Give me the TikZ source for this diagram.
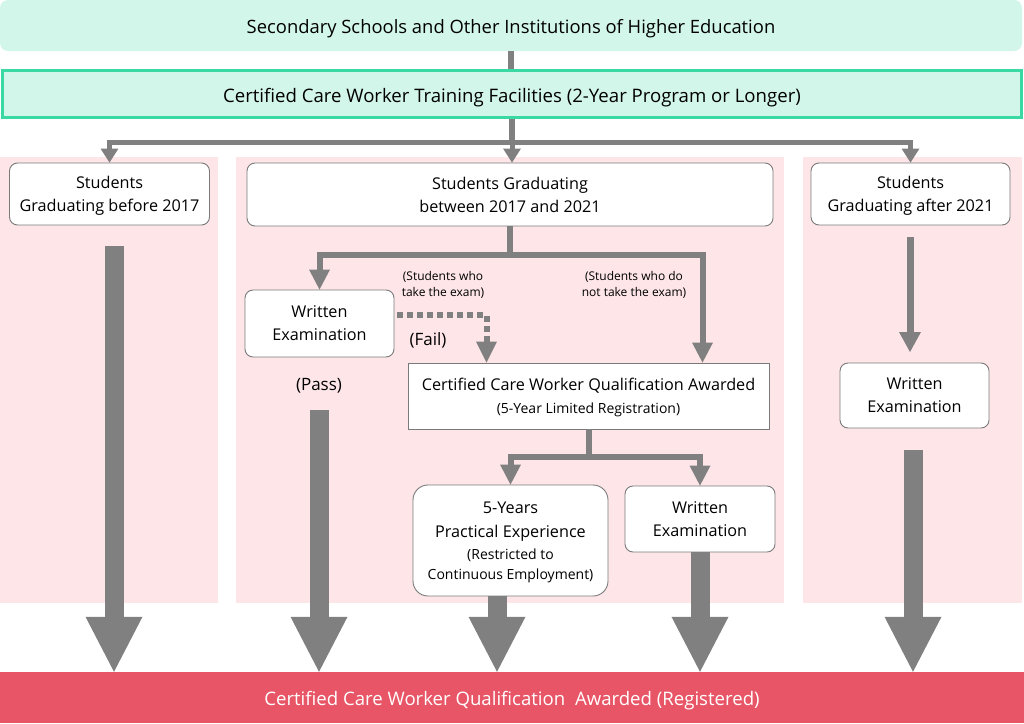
\documentclass[tikz,border=0pt]{standalone}
\usepackage{fontspec}
\setmainfont{Open Sans}
\usetikzlibrary{arrows.meta,calc}
\definecolor{mint}{HTML}{D3F6EA}
\definecolor{mintline}{HTML}{3AD8A2}
\definecolor{pinkbg}{HTML}{FDE5E8}
\definecolor{barred}{HTML}{E85566}
\definecolor{arrgray}{HTML}{808080}
\definecolor{boxline}{HTML}{7A7A7A}
\tikzset{
  panel/.style={fill=pinkbg,draw=none},
  wbox/.style={draw=boxline,line width=0.9pt,fill=white,rounded corners=8pt,align=center,inner sep=0pt,
    text depth=0pt,font=\fontsize{16.2}{23}\selectfont},
  band/.style={minimum width=#1,inner sep=0pt,text height=16pt,text depth=0pt,font=\fontsize{18.6}{22}\selectfont},
  conn/.style={draw=arrgray,line width=6pt,line join=miter,-{Triangle[length=20pt,width=21pt,line width=0pt]}},
  topconn/.style={draw=arrgray,line width=5pt,line join=miter,-{Triangle[length=14pt,width=18pt,line width=0pt]}},
  thinconn/.style={draw=arrgray,line width=7pt,-{Triangle[length=20pt,width=22pt,line width=0pt]}},
  bigarrow/.style={draw=arrgray,line width=19pt,-{Triangle[length=55pt,width=57pt,line width=0pt]}},
  plain/.style={draw=arrgray,line width=6pt},
  small/.style={font=\fontsize{12}{16}\selectfont,align=center,inner sep=0pt},
  lbl/.style={font=\fontsize{17}{20}\selectfont,inner sep=0pt}
}
\begin{document}
\begin{tikzpicture}[x=1pt,y=-1pt]
\useasboundingbox (0,0) rectangle (1024,723);
% panels
\fill[panel] (0,157) rectangle (218,603);
\fill[panel] (236,157) rectangle (784,603);
\fill[panel] (803,157) rectangle (1022,603);

% header boxes
\node[band=1022pt,fill=mint,rounded corners=8pt,minimum height=51pt,font=\fontsize{18.4}{22}\selectfont]
  (top) at (511,25.5) {Secondary Schools and Other Institutions of Higher Education};
\node[band=1019pt,fill=mint,draw=mintline,line width=3pt,minimum height=47pt]
  (train) at (512,94) {Certified Care Worker Training Facilities (2-Year Program or Longer)};

% student boxes
\node[wbox,minimum width=200pt,minimum height=62pt] (s1) at (109.5,194) {Students\\Graduating before 2017};
\node[wbox,minimum width=526pt,minimum height=63pt] (s2) at (510,194.5) {Students Graduating\\between 2017 and 2021};
\node[wbox,minimum width=199pt,minimum height=62pt] (s3) at (910.5,194) {Students\\Graduating after 2021};

% middle column
\node[wbox,minimum width=149pt,minimum height=67pt] (we1) at (319.5,323.5) {Written\\Examination};
\node[wbox,rounded corners=0pt,minimum width=361pt,minimum height=66pt] (qual) at (588.5,396)
  {Certified Care Worker Qualification Awarded\\\fontsize{14}{20}\selectfont (5-Year Limited Registration)};
\node[wbox,rounded corners=15pt,minimum width=195pt,minimum height=111pt,font=\fontsize{16.2}{24}\selectfont] (fivey) at (510.5,540.5)
  {5-Years\\Practical Experience\\[-2pt]\fontsize{14}{20}\selectfont (Restricted to\\[-4pt]\fontsize{14}{20}\selectfont Continuous Employment)};
\node[wbox,minimum width=150pt,minimum height=66pt] (we2) at (700,519) {Written\\Examination};

% right column
\node[wbox,minimum width=149pt,minimum height=65pt] (we3) at (914.5,395.5) {Written\\Examination};

% bottom bar
\node[band=1024pt,fill=barred,minimum height=51pt,text=white]
  (bar) at (512,697.5) {Certified Care Worker Qualification\ \ Awarded (Registered)};

% labels
\node[small] (lt) at (443,285) {(Students who\\take the exam)};
\node[small] (lnt) at (634,285) {(Students who do\\not take the exam)};
\node[lbl] (fail) at (428,340) {(Fail)};
\node[lbl] (pass) at (319,386) {(Pass)};

% top connectors
\draw[plain] (top.south) -- (train.north -| top.south);
\coordinate (busT) at (512,142);
\draw[plain] (train.south) -- (busT);
\draw[topconn] (busT) -| (s1.north);
\draw[topconn] (busT) -| (s3.north);
\draw[topconn] (busT) -- (s2.north -| busT);

% middle connectors
\coordinate (busM) at (510,255);
\draw[plain] (s2.south) -- (busM);
\draw[conn] (busM) -| (we1.north);
\draw[conn] (busM) -| ([xshift=114pt]qual.north);
\coordinate (dotS) at (397,315);
\draw[draw=arrgray,line width=6pt,dash pattern=on 6pt off 4pt,-{Triangle[length=21pt,width=21pt,line width=0pt]}]
  (dotS) -| ([xshift=-102pt]qual.north);

\coordinate (busQ) at (588.5,457);
\draw[plain] (qual.south) -- (busQ);
\draw[conn] (busQ) -| (fivey.north);
\draw[conn] (busQ) -| (we2.north);

% right thin arrow
\coordinate (r1) at (910,237);
\coordinate (r2) at (910,352);
\draw[thinconn] (r1) -- (r2);

% big arrows
\coordinate (b1) at (114,246);
\coordinate (b2) at (319,410);
\coordinate (b3) at (497,596);
\coordinate (b4) at (700,552);
\coordinate (b5) at (913,450);
\draw[bigarrow] (b1) -- (b1 |- bar.north);
\draw[bigarrow] (b2) -- (b2 |- bar.north);
\draw[bigarrow] (b3) -- (b3 |- bar.north);
\draw[bigarrow] (b4) -- (b4 |- bar.north);
\draw[bigarrow] (b5) -- (b5 |- bar.north);
\end{tikzpicture}
\end{document}
